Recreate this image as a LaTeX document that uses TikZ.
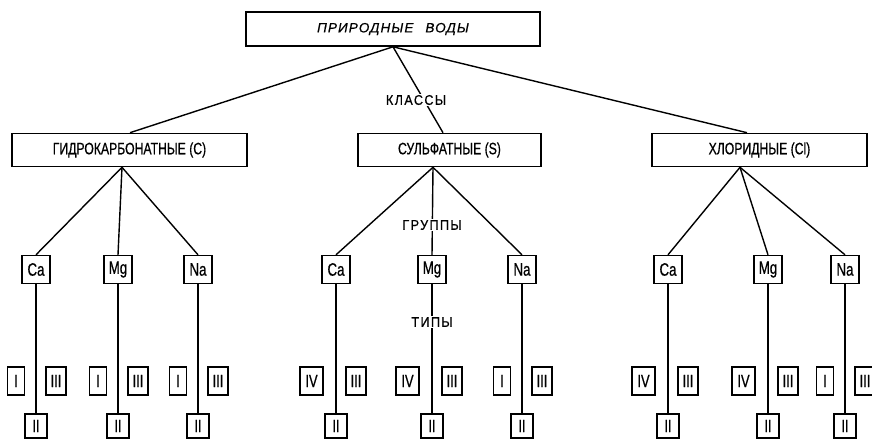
\documentclass[tikz,border=0pt]{standalone}
\usepackage{fontspec}
\setmainfont{Liberation Sans}[FakeStretch=0.74, FakeBold=0.6]
\newfontfamily\labelfont{Liberation Sans}[FakeStretch=0.9, FakeBold=0.6, LetterSpace=10]
\newfontfamily\titlefont{Liberation Sans}[FakeBold=0.6, LetterSpace=8]
\begin{document}
\begin{tikzpicture}[x=1pt, y=-1pt,
    box/.style={draw, line width=1.6pt, inner sep=0pt, minimum height=33pt, font=\fontsize{16.5}{18}\selectfont},
    grp/.style={draw, line width=1.4pt, inner sep=0pt, minimum width=28pt, minimum height=28pt, font=\fontsize{18}{18}\selectfont},
    typ/.style={draw, line width=1.4pt, inner sep=0pt, minimum height=28pt, font=\fontsize{17.5}{18}\selectfont},
    lnk/.style={line width=1.4pt},
    lbl/.style={fill=white, inner sep=1.5pt, font=\labelfont\fontsize{14}{15}\selectfont}]
        \useasboundingbox (0,0) rectangle (872,439);
        % Природные воды
        \node[box, minimum width=294pt, minimum height=34pt, font=\titlefont\itshape\fontsize{13.5}{15}\selectfont] (voda) at (393,29) {ПРИРОДНЫЕ\hspace{12pt}ВОДЫ};
        % Классы
        \node[box, minimum width=235pt] (hk) at (129.5,150) {ГИДРОКАРБОНАТНЫЕ (C)};
        \node[box, minimum width=183pt] (sf) at (449.5,150) {СУЛЬФАТНЫЕ (S)};
        \node[box, minimum width=215pt] (hl) at (759.5,150) {ХЛОРИДНЫЕ (Cl)};
        \draw[lnk] (voda.south) -- ([xshift=0.5pt]hk.north);
        \draw[lnk] (voda.south) -- ([xshift=-6.5pt]sf.north);
        \draw[lnk] (voda.south) -- ([xshift=-12.5pt]hl.north);
        \node[lbl] (klassy) at (416,100) {КЛАССЫ};
        % Группы
        \foreach \k/\dx/\g/\x in {hk/-7.5/Ca/36, hk/-7.5/Mg/118, hk/-7.5/Na/198,
                                  sf/-16.5/Ca/336, sf/-16.5/Mg/432, sf/-16.5/Na/522,
                                  hl/-19.5/Ca/668, hl/-19.5/Mg/768, hl/-19.5/Na/845} {
            \node[grp] (\k-\g) at (\x,269.5) {\g};
            \draw[lnk] ([xshift=\dx pt]\k.south) -- (\k-\g.north);
        }
        % Типы
        \foreach \n/\x/\l/\w/\o in {hk-Ca/36/I/17/-20, hk-Mg/118/I/17/-20, hk-Na/198/I/17/-20,
                                    sf-Ca/336/IV/23/-24.5, sf-Mg/432/IV/23/-24.5, sf-Na/522/I/17/-20,
                                    hl-Ca/668/IV/23/-24.5, hl-Mg/768/IV/23/-24.5, hl-Na/845/I/17/-20} {
            \node[typ, minimum width=22pt, minimum height=24pt] (\n-II) at (\x,426) {II};
            \node[typ, minimum width=\w pt] (\n-L) at (\x+\o,381) {\l};
            \node[typ, minimum width=20pt] (\n-R) at (\x+20,381) {III};
            \draw[lnk] (\n.south) -- (\n-II.north);
        }
        \node[lbl] (gruppy) at (432,225) {ГРУППЫ};
        \node[lbl] (tipy) at (432,322) {ТИПЫ};
\end{tikzpicture}
\end{document}
